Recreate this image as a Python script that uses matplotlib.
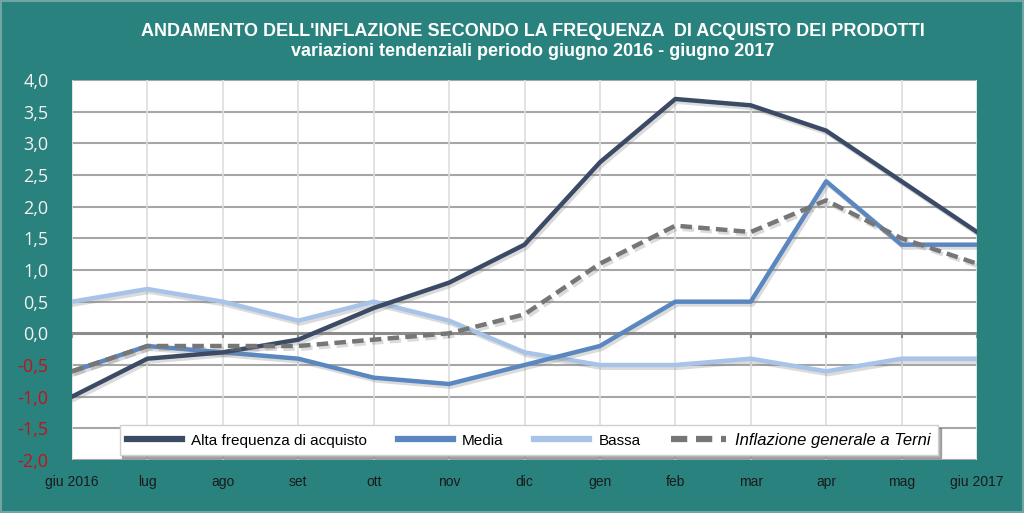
import matplotlib
matplotlib.use("Agg")
import matplotlib.pyplot as plt
import matplotlib.patheffects as pe
from matplotlib.patches import Rectangle

NARROW = "Liberation Sans"

months = ["giu 2016", "lug", "ago", "set", "ott", "nov", "dic", "gen",
          "feb", "mar", "apr", "mag", "giu 2017"]
alta = [-1.0, -0.4, -0.3, -0.1, 0.4, 0.8, 1.4, 2.7, 3.7, 3.6, 3.2, 2.4, 1.6]
media = [-0.6, -0.2, -0.3, -0.4, -0.7, -0.8, -0.5, -0.2, 0.5, 0.5, 2.4, 1.4, 1.4]
bassa = [0.5, 0.7, 0.5, 0.2, 0.5, 0.2, -0.3, -0.5, -0.5, -0.4, -0.6, -0.4, -0.4]
inflazione = [-0.6, -0.2, -0.2, -0.2, -0.1, 0.0, 0.3, 1.1, 1.7, 1.6, 2.1, 1.5, 1.1]
yticks = [-2.0, -1.5, -1.0, -0.5, 0.0, 0.5, 1.0, 1.5, 2.0, 2.5, 3.0, 3.5, 4.0]

BG = "#2A827E"
fig = plt.figure(figsize=(10.24, 5.13), dpi=100, facecolor=BG)
fig.patches.append(Rectangle((0.001, 0.002), 0.998, 0.996, transform=fig.transFigure,
                             fill=False, edgecolor="#6FA5A2", lw=1.5))
ax = fig.add_axes([72/1024, 1-460/513, (977-72)/1024, (460-80)/513])
ax.set_facecolor("white")

x = list(range(len(months)))
shadow = [pe.SimpleLineShadow(offset=(1.5, -2), shadow_color="#888888", alpha=0.3), pe.Normal()]
ax.plot(x, alta, color="#3B4B66", lw=3.2, label="Alta frequenza di acquisto", zorder=5, path_effects=shadow)
ax.plot(x, media, color="#5B87C1", lw=3.2, label="Media", zorder=4, path_effects=shadow)
ax.plot(x, bassa, color="#A7C3E7", lw=3.2, label="Bassa", zorder=3, path_effects=shadow)
ax.plot(x, inflazione, color="#767676", lw=3.2, ls=(0, (2.6, 1.4)), label="Inflazione generale a Terni",
        zorder=6, path_effects=shadow)

ax.set_xlim(0, len(months)-1)
ax.set_ylim(-2.0, 4.0)
ax.set_yticks(yticks)
ax.set_xticks(x)
ax.set_xticklabels(months, fontfamily=NARROW, fontsize=10, color="#1a1a1a")
ax.set_yticklabels([f"{v:.1f}".replace(".", ",") for v in yticks], fontfamily="Open Sans", fontsize=13)
for lbl, v in zip(ax.get_yticklabels(), yticks):
    lbl.set_color("#C0141C" if v < 0 else "#F2F2F2")
ax.tick_params(axis="y", length=0, pad=17)
ax.tick_params(axis="x", length=0, pad=11)

for v in yticks:
    if v == 0:
        continue
    ax.axhline(v, color="#A6A6A6", lw=1.5, zorder=1)
for xi in x:
    ax.axvline(xi, color="#DDDDDD", lw=1.2, zorder=1)
ax.axhline(0, color="#8C8C8C", lw=2.2, zorder=2)
for xi in x:
    ax.plot([xi, xi], [0, -0.06], color="#8C8C8C", lw=1.5, zorder=2)
for s in ax.spines.values():
    s.set_visible(False)

leg = ax.legend(loc="lower center", bbox_to_anchor=(0.505, -0.008), ncol=4, frameon=True, fancybox=False,
                shadow={"color": "#777777", "alpha": 0.6}, edgecolor="#D0D0D0", framealpha=1,
                prop={"family": NARROW, "size": 11}, handlelength=3.6, columnspacing=2.0,
                borderpad=0.5, handletextpad=0.6)
leg.get_texts()[3].set_fontstyle("italic")
leg.get_texts()[3].set_fontsize(12)
leg.set_zorder(10)
for h in leg.get_lines():
    h.set_path_effects([])
    h.set_linewidth(4.5)

fig.text(0.52, 0.939, "ANDAMENTO DELL'INFLAZIONE SECONDO LA FREQUENZA  DI ACQUISTO DEI PRODOTTI",
         ha="center", va="center", color="white", fontweight="bold", fontsize=13, fontfamily=NARROW)
fig.text(0.52, 0.900, "variazioni tendenziali periodo giugno 2016 - giugno 2017",
         ha="center", va="center", color="white", fontweight="bold", fontsize=13, fontfamily=NARROW)

fig.savefig("out.png", dpi=100, facecolor=BG)
